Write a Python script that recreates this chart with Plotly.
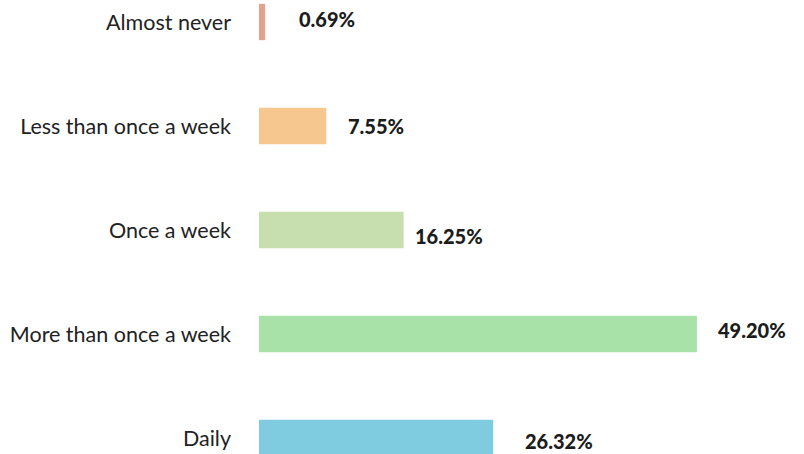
import plotly.graph_objects as go

categories = ["Almost never", "Less than once a week", "Once a week",
              "More than once a week", "Daily"]
shares = [0.69, 7.55, 16.25, 49.20, 26.32]
value_labels = ["0.69%", "7.55%", "16.25%", "49.20%", "26.32%"]
bar_colors = ["#E2A38E", "#F6C88F", "#C7DFAE", "#A9E2A8", "#7FCCE0"]
label_gaps = [32, 20, 9, 19, 30]
label_nudge = [3, 0, -6, 4, -3]

fig = go.Figure(go.Bar(
    x=shares, y=categories, orientation="h",
    marker=dict(color=bar_colors, line=dict(width=0)),
    width=0.35, hoverinfo="skip",
))

for cat, val, txt, gap, dy in zip(categories, shares, value_labels, label_gaps, label_nudge):
    fig.add_annotation(
        x=val, y=cat, text=txt, showarrow=False,
        xanchor="left", xshift=gap, yshift=dy,
        font=dict(family="Lato", size=20, color="#1c1c1c", weight=900),
    )

fig.update_layout(
    width=804, height=454,
    margin=dict(l=259, r=11, t=0, b=0),
    paper_bgcolor="white", plot_bgcolor="white",
    showlegend=False,
    font=dict(family="Lato", size=21.5, color="#222222"),
    xaxis=dict(range=[0, 60], visible=False, fixedrange=True),
    yaxis=dict(
        categoryorder="array", categoryarray=categories,
        range=[4.154, -0.2115], showgrid=False, zeroline=False,
        showline=False, ticks="", ticklabelstandoff=27,
        tickfont=dict(family="Lato", size=21.5, color="#222222"),
    ),
)

fig.write_html("out.html")
